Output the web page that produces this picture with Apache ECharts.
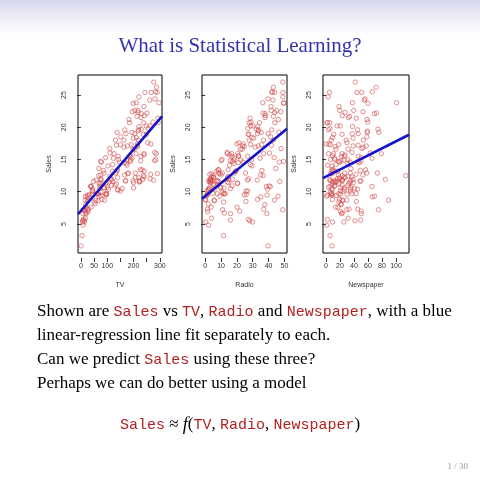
<!DOCTYPE html>
<html>
<head>
<meta charset="utf-8">
<script src="https://cdn.jsdelivr.net/npm/echarts@6/dist/echarts.min.js"></script>
<style>html,body{margin:0;padding:0;background:#fff}#main{width:480px;height:480px}</style>
</head>
<body>
<div id="main"></div>
<script>
// Advertising data: TV, Radio, Newspaper budgets vs Sales
const tv = [230.1,44.5,17.2,151.5,180.8,8.7,57.5,120.2,8.6,199.8,66.1,214.7,23.8,97.5,204.1,195.4,67.8,281.4,69.2,147.3,218.4,237.4,13.2,228.3,62.3,262.9,142.9,240.1,248.8,70.6,292.9,112.9,97.2,265.6,95.7,290.7,266.9,74.7,43.1,228,202.5,177,293.6,206.9,25.1,175.1,89.7,239.9,227.2,66.9,199.8,100.4,216.4,182.6,262.7,198.9,7.3,136.2,210.8,210.7,53.5,261.3,239.3,102.7,131.1,69,31.5,139.3,237.4,216.8,199.1,109.8,26.8,129.4,213.4,16.9,27.5,120.5,5.4,116,76.4,239.8,75.3,68.4,213.5,193.2,76.3,110.7,88.3,109.8,134.3,28.6,217.7,250.9,107.4,163.3,197.6,184.9,289.7,135.2,222.4,296.4,280.2,187.9,238.2,137.9,25,90.4,13.1,255.4,225.8,241.7,175.7,209.6,78.2,75.1,139.2,76.4,125.7,19.4,141.3,18.8,224,123.1,229.5,87.2,7.8,80.2,220.3,59.6,0.7,265.2,8.4,219.8,36.9,48.3,25.6,273.7,43,184.9,73.4,193.7,220.5,104.6,96.2,140.3,240.1,243.2,38,44.7,280.7,121,197.6,171.3,187.8,4.1,93.9,149.8,11.7,131.7,172.5,85.7,188.4,163.5,117.2,234.5,17.9,206.8,215.4,284.3,50,164.5,19.6,168.4,222.4,276.9,248.4,170.2,276.7,165.6,156.6,218.5,56.2,287.6,253.8,205,139.5,191.1,286,18.7,39.5,75.5,17.2,166.8,149.7,38.2,94.2,177,283.6,232.1];
const radio = [37.8,39.3,45.9,41.3,10.8,48.9,32.8,19.6,2.1,2.6,5.8,24,35.1,7.6,32.9,47.7,36.6,39.6,20.5,23.9,27.7,5.1,15.9,16.9,12.6,3.5,29.3,16.7,27.1,16,28.3,17.4,1.5,20,1.4,4.1,43.8,49.4,26.7,37.7,22.3,33.4,27.7,8.4,25.7,22.5,9.9,41.5,15.8,11.7,3.1,9.6,41.7,46.2,28.8,49.4,28.1,19.2,49.6,29.5,2,42.7,15.5,29.6,42.8,9.3,24.6,14.5,27.5,43.9,30.6,14.3,33,5.7,24.6,43.7,1.6,28.5,29.9,7.7,26.7,4.1,20.3,44.5,43,18.4,27.5,40.6,25.5,47.8,4.9,1.5,33.5,36.5,14,31.6,3.5,21,42.3,41.7,4.3,36.3,10.1,17.2,34.3,46.4,11,0.3,0.4,26.9,8.2,38,15.4,20.6,46.8,35,14.3,0.8,36.9,16,26.8,21.7,2.4,34.6,32.3,11.8,38.9,0,49,12,39.6,2.9,27.2,33.5,38.6,47,39,28.9,25.9,43.9,17,35.4,33.2,5.7,14.8,1.9,7.3,49,40.3,25.8,13.9,8.4,23.3,39.7,21.1,11.6,43.5,1.3,36.9,18.4,18.1,35.8,18.1,36.8,14.7,3.4,37.6,5.2,23.6,10.6,11.6,20.9,20.1,7.1,3.4,48.9,30.2,7.8,2.3,10,2.6,5.4,5.7,43,21.3,45.1,2.1,28.7,13.9,12.1,41.1,10.8,4.1,42,35.6,3.7,4.9,9.3,42,8.6];
const newspaper = [69.2,45.1,69.3,58.5,58.4,75,23.5,11.6,1,21.2,24.2,4,65.9,7.2,46,52.9,114,55.8,18.3,19.1,53.4,23.5,49.6,26.2,18.3,19.5,12.6,22.9,22.9,40.8,43.2,38.6,30,0.3,7.4,8.5,5,45.7,35.1,32,31.6,38.7,1.8,26.4,43.3,31.5,35.7,18.5,49.9,36.8,34.6,3.6,39.6,58.7,15.9,60,41.4,16.6,37.7,9.3,21.4,54.7,27.3,8.4,28.9,0.9,2.2,10.2,11,27.2,38.7,31.7,19.3,31.3,13.1,89.4,20.7,14.2,9.4,23.1,22.3,36.9,32.5,35.6,33.8,65.7,16,63.2,73.4,51.4,9.3,33,59,72.3,10.9,52.9,5.9,22,51.2,45.9,49.8,100.9,21.4,17.9,5.3,59,29.7,23.2,25.6,5.5,56.5,23.2,2.4,10.7,34.5,52.7,25.6,14.8,79.2,22.3,46.2,50.4,15.6,12.4,74.2,25.9,50.6,9.2,3.2,43.1,8.7,43,2.1,45.1,65.6,8.5,9.3,59.7,20.5,1.7,12.9,75.6,37.9,34.4,38.9,9,8.7,44.3,11.9,20.6,37,48.7,14.2,37.7,9.5,5.7,50.5,24.3,45.2,34.6,30.7,49.3,25.6,7.4,5.4,84.8,21.6,19.4,57.6,6.4,18.4,47.4,17,12.8,13.1,41.8,20.3,35.2,23.7,17.6,8.3,27.4,29.7,71.8,30,19.6,26.6,18.2,3.7,23.4,5.8,6,31.6,3.6,6,13.8,8.1,6.4,66.2,8.7];
const sales = [22.1,10.4,9.3,18.5,12.9,7.2,11.8,13.2,4.8,10.6,8.6,17.4,9.2,9.7,19,22.4,12.5,24.4,11.3,14.6,18,12.5,5.6,15.5,9.7,12,15,15.9,18.9,10.5,21.4,11.9,9.6,17.4,9.5,12.8,25.4,14.7,10.1,21.5,16.6,17.1,20.7,12.9,8.5,14.9,10.6,23.2,14.8,9.7,11.4,10.7,22.6,21.2,20.2,23.7,5.5,13.2,23.8,18.4,8.1,24.2,15.7,14,18,9.3,9.5,13.4,18.9,22.3,18.3,12.4,8.8,11,17,8.7,6.9,14.2,5.3,11,11.8,12.3,11.3,13.6,21.7,15.2,12,16,12.9,16.7,11.2,7.3,19.4,22.2,11.5,16.9,11.7,15.5,25.4,17.2,11.7,23.8,14.8,14.7,20.7,19.2,7.2,8.7,5.3,19.8,13.4,21.8,14.1,15.9,14.6,12.6,12.2,9.4,15.9,6.6,15.5,7,11.6,15.2,19.7,10.6,6.6,8.8,24.7,9.7,1.6,12.7,5.7,19.6,10.8,11.6,9.5,20.8,9.6,20.7,10.9,19.2,20.1,10.4,11.4,10.3,13.2,25.4,10.9,10.1,16.1,11.6,16.6,19,15.6,3.2,15.3,10.1,7.3,12.9,14.4,13.3,14.9,18,11.9,11.9,8,12.2,17.1,15,8.4,14.5,7.6,11.7,11.5,27,20.2,11.7,11.8,12.6,10.5,12.2,8.7,26.2,17.6,22.6,10.3,17.3,15.9,6.7,10.8,9.9,5.9,19.6,17.3,7.6,9.7,12.8,25.5,13.4];

// least-squares fits: [intercept, slope]
const fitTV = [7.0326, 0.04754];
const fitRadio = [9.3116, 0.2025];
const fitNews = [12.3514, 0.05469];

const yTicks = [5, 10, 15, 20, 25];
const panels = [
  { name: 'TV', x: tv, fit: fitTV, min: -11.1, max: 308.2, ticks: [0, 50, 100, 150, 200, 250, 300], labels: [0, 50, 100, 200, 300], left: 78, width: 84 },
  { name: 'Radio', x: radio, fit: fitRadio, min: -2, max: 51.6, ticks: [0, 10, 20, 30, 40, 50], labels: [0, 10, 20, 30, 40, 50], left: 202, width: 85 },
  { name: 'Newspaper', x: newspaper, fit: fitNews, min: -4.3, max: 118.6, ticks: [0, 20, 40, 60, 80, 100], labels: [0, 20, 40, 60, 80, 100], left: 323, width: 86 }
];

const chart = echarts.init(document.getElementById('main'), null, { renderer: 'canvas' });
const font = 'Liberation Sans';
const grid = [], xAxis = [], yAxis = [], series = [];

panels.forEach((p, i) => {
  grid.push({ left: p.left, top: 75, width: p.width, height: 178, show: true, borderColor: '#000', borderWidth: 1, backgroundColor: 'transparent' });
  xAxis.push({
    gridIndex: i, type: 'value', min: p.min, max: p.max, offset: 5,
    name: p.name, nameLocation: 'middle', nameGap: 24,
    nameTextStyle: { fontFamily: font, fontSize: 7, color: '#333' },
    splitLine: { show: false }, axisLine: { show: false },
    axisTick: { show: true, length: 4, customValues: p.ticks, lineStyle: { color: '#333' } },
    axisLabel: { customValues: p.labels, fontFamily: font, fontSize: 7, color: '#333', margin: 5 }
  });
  yAxis.push({
    gridIndex: i, type: 'value', min: 0.5, max: 28.1, offset: 5,
    name: 'Sales', nameLocation: 'middle', nameGap: 20,
    nameTextStyle: { fontFamily: font, fontSize: 7, color: '#333' },
    splitLine: { show: false }, axisLine: { show: false },
    axisTick: { show: true, length: 4, customValues: yTicks, lineStyle: { color: '#333' } },
    axisLabel: { customValues: yTicks, rotate: 90, fontFamily: font, fontSize: 7, color: '#333', margin: 5 }
  });
  series.push({
    type: 'scatter', xAxisIndex: i, yAxisIndex: i,
    data: p.x.map((v, k) => [v, sales[k]]),
    symbol: 'circle', symbolSize: 4.4,
    itemStyle: { color: 'rgba(255,255,255,0)', borderColor: '#d04848', borderWidth: 0.75 }
  });
  series.push({
    type: 'line', xAxisIndex: i, yAxisIndex: i, symbol: 'none', z: 5,
    data: [p.min, p.max].map(x => [x, p.fit[0] + p.fit[1] * x]),
    lineStyle: { color: '#1414c8', width: 2.6 }
  });
});

const serif = 'Liberation Serif';
const mono = 'Liberation Mono';
const rich = {
  t: { fontFamily: serif, fontSize: 17, fill: '#000' },
  c: { fontFamily: mono, fontSize: 15, fill: '#b22222' }
};

chart.setOption({
  animation: false,
  grid, xAxis, yAxis, series,
  graphic: [
    { type: 'rect', left: 0, top: 0, shape: { width: 480, height: 34 }, silent: true,
      style: { fill: new echarts.graphic.LinearGradient(0, 0, 0, 1, [{ offset: 0, color: '#d8d8ee' }, { offset: 1, color: '#ffffff' }]) } },
    { type: 'text', left: 'center', top: 36, style: { text: 'What is Statistical Learning?', font: '21px "Liberation Serif"', fill: '#3333b3' } },
    { type: 'text', left: 37, top: 300, style: {
      text: '{t|Shown are }{c|Sales}{t| vs }{c|TV}{t|, }{c|Radio}{t| and }{c|Newspaper}{t|, with a blue}\n' +
            '{t|linear-regression line fit separately to each.}\n' +
            '{t|Can we predict }{c|Sales}{t| using these three?}\n' +
            '{t|Perhaps we can do better using a model}',
      rich, lineHeight: 24 } },
    { type: 'text', left: 'center', top: 416, style: {
      text: '{c|Sales}{t| ≈ }{i|f}{t|(}{c|TV}{t|, }{c|Radio}{t|, }{c|Newspaper}{t|)}',
      rich: Object.assign({ i: { fontFamily: serif, fontStyle: 'italic', fontSize: 18, fill: '#000' } }, rich) } },
    { type: 'text', right: 12, top: 462, style: { text: '1 / 30', font: '9px "Liberation Serif"', fill: '#999' } }
  ]
});
</script>
</body>
</html>
